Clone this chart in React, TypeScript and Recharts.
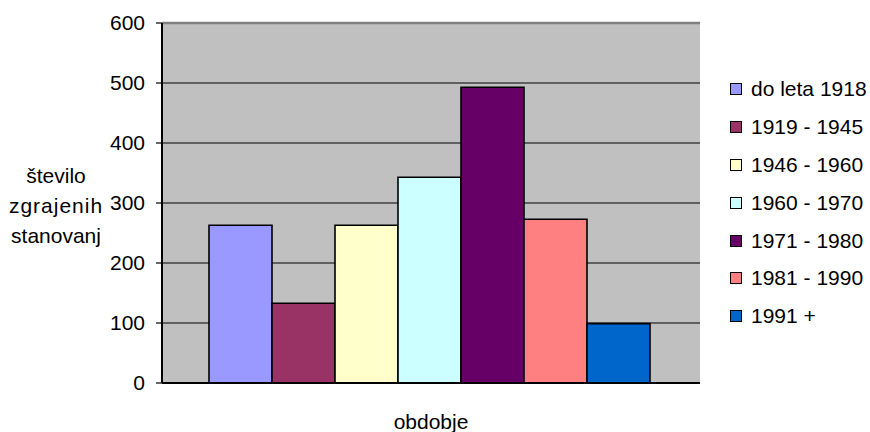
import React from "react";
import {
  BarChart,
  Bar,
  XAxis,
  YAxis,
  CartesianGrid,
  Legend,
  ReferenceLine,
  Label,
} from "recharts";

const periods = [
  "do leta 1918",
  "1919 - 1945",
  "1946 - 1960",
  "1960 - 1970",
  "1971 - 1980",
  "1981 - 1990",
  "1991 +",
];
const dwellings = [263, 133, 263, 343, 493, 273, 99];
const colors = ["#9999FF", "#993366", "#FFFFCC", "#CCFFFF", "#660066", "#FF8080", "#0066CC"];
const yTicks = [0, 100, 200, 300, 400, 500, 600];
const yTitle = ["število", "zgrajenih", "stanovanj"];
const xTitle = "obdobje";

const FONT = "'Liberation Sans', Arial, sans-serif";

// one category, one series per period
const row: Record<string, string | number> = { name: "" };
periods.forEach((p, i) => {
  row["s" + i] = dwellings[i];
});
const data = [row];

function LegendList({ payload }: any) {
  return (
    <div style={{ fontFamily: FONT, fontSize: 21, color: "#000" }}>
      {(payload || []).map((item: any) => (
        <div key={item.value} style={{ display: "flex", alignItems: "center", height: 37.9 }}>
          <span
            style={{
              width: 10,
              height: 10,
              background: item.color,
              border: "1.5px solid #000",
              marginRight: 9,
            }}
          />
          <span>{item.value}</span>
        </div>
      ))}
    </div>
  );
}

export default function App() {
  return (
    <div style={{ width: 870, height: 432, position: "relative" }}>
      <style>{"body{margin:0;background:#fff}"}</style>
      <BarChart
        width={870}
        height={432}
        data={data}
        margin={{ top: 23, right: 170, bottom: 0, left: 0 }}
        barCategoryGap={47}
        barGap={0}
      >
        <CartesianGrid
          vertical={false}
          fill="#C0C0C0"
          fillOpacity={1}
          stroke="#000"
          strokeWidth={1.2}
        />
        <XAxis
          dataKey="name"
          height={49}
          tick={false}
          tickLine={false}
          axisLine={{ stroke: "#000", strokeWidth: 2 }}
        >
          <Label
            content={({ viewBox }: any) => (
              <text
                x={viewBox.x + viewBox.width / 2}
                y={viewBox.y + 38}
                textAnchor="middle"
                dominantBaseline="central"
                fontFamily={FONT}
                fontSize={21}
                fill="#000"
              >
                {xTitle}
              </text>
            )}
          />
        </XAxis>
        <YAxis
          width={162}
          domain={[0, 600]}
          ticks={yTicks}
          interval={0}
          tickSize={6}
          tickMargin={11}
          tick={{ fontFamily: FONT, fontSize: 21, fill: "#000" }}
          tickLine={{ stroke: "#000", strokeWidth: 1.2 }}
          axisLine={{ stroke: "#000", strokeWidth: 2 }}
        >
          <Label
            content={({ viewBox }: any) => (
              <text
                textAnchor="middle"
                fontFamily={FONT}
                fontSize={21}
                fill="#000"
                dominantBaseline="central"
              >
                {yTitle.map((line, i) => (
                  <tspan
                    key={line}
                    x={56}
                    y={viewBox.y + viewBox.height / 2 + (i - 1) * 30 + 2}
                    letterSpacing={i === 1 ? 1 : 0}
                  >
                    {line}
                  </tspan>
                ))}
              </text>
            )}
          />
        </YAxis>
        <YAxis
          yAxisId="right"
          orientation="right"
          width={0}
          domain={[0, 600]}
          tick={false}
          tickLine={false}
          axisLine={{ stroke: "#808080", strokeWidth: 2 }}
        />
        <ReferenceLine y={600} stroke="#808080" strokeWidth={2.5} />
        {periods.map((p, i) => (
          <Bar
            key={p}
            dataKey={"s" + i}
            name={p}
            fill={colors[i]}
            stroke="#000"
            strokeWidth={1.6}
            isAnimationActive={false}
          />
        ))}
        <Legend
          layout="horizontal"
          verticalAlign="middle"
          align="center"
          itemSorter="dataKey"
          content={<LegendList />}
          wrapperStyle={{ left: 730, top: 70, width: 140, height: 270 }}
        />
      </BarChart>
    </div>
  );
}
